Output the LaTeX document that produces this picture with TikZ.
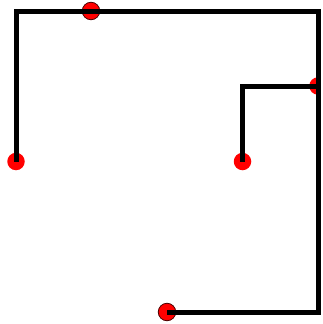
\documentclass[tikz,border=0pt]{standalone}
\begin{document}
\begin{tikzpicture}[x=1pt,y=-1pt,
  wire/.style={line width=5pt,black,line cap=butt,line join=miter},
  dot/.style={circle,fill=red,inner sep=0pt,minimum size=17.5pt},
  odot/.style={dot,draw=black!70!red,line width=0.8pt}]
\useasboundingbox (0,0) rectangle (322,324);
\node[dot]  (a) at (16,161.5) {};
\node[odot] (b) at (91,11) {};
\begin{scope}
\clip (0,0) rectangle (320,324);
\node[dot]  (c) at (318,86) {};
\end{scope}
\node[dot]  (d) at (242.5,161.5) {};
\node[odot] (e) at (167,312) {};
\coordinate (tl) at (16,11);
\coordinate (tr) at (318,11);
\coordinate (br) at (318,312);
\coordinate (m) at (242.5,86);
\draw[wire] (a.center) -- (tl) -- (b.center) -- (tr) -- (br) -- (e.center);
\draw[wire] (d.center) -- (m) -- (c.center);
\end{tikzpicture}
\end{document}
